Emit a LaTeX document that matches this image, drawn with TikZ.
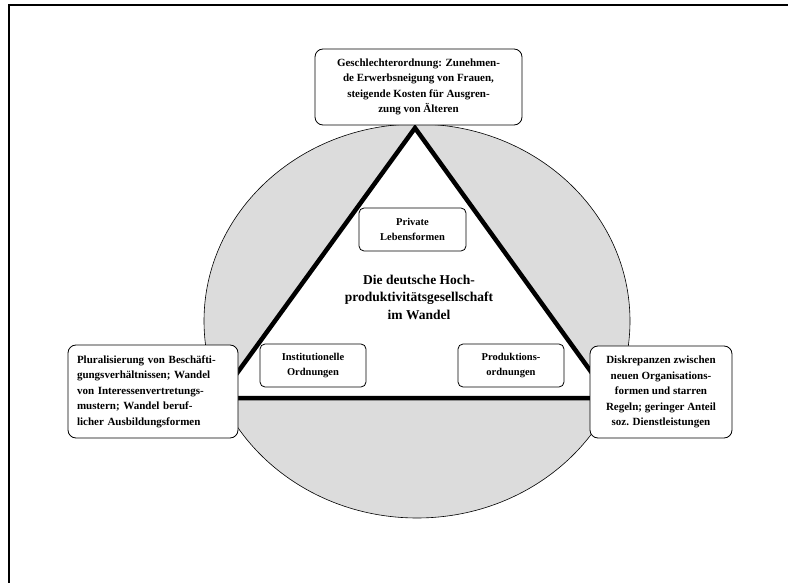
\documentclass[tikz,border=0pt]{standalone}
\usepackage{fontspec}
\setmainfont{Liberation Serif}
\definecolor{ringgray}{HTML}{DCDCDC}
\begin{document}
\begin{tikzpicture}[x=1pt,y=-1pt,
  bigbox/.style={draw, rounded corners=8pt, fill=white, line width=0.8pt, align=center,
    font=\fontsize{11}{15.5}\selectfont\bfseries, inner sep=0pt},
  smallbox/.style={draw, rounded corners=5pt, fill=white, line width=0.8pt, align=center,
    font=\fontsize{10.5}{15}\selectfont\bfseries, inner sep=0pt,
    minimum width=106pt, minimum height=43pt},
  titletext/.style={align=center, font=\fontsize{13.5}{17.5}\selectfont\bfseries, inner sep=0pt},
  tri/.style={line width=4.5pt, line join=miter}
]
\useasboundingbox (0,0) rectangle (788,583);
% frame
\draw[line width=2pt] (8.5,5.5) rectangle (820,620);
% ellipse ring
\fill[ringgray, draw=black, line width=0.6pt] (417,321) ellipse [x radius=213pt, y radius=197pt];
% triangle
\coordinate (apex) at (415,128);
\coordinate (bl) at (219,398);
\coordinate (br) at (610,398);
\draw[tri, fill=white] (apex) -- (bl) -- (br) -- cycle;
% boxes
\node[bigbox, minimum width=207pt, minimum height=76pt] (top) at (418.5,87)
  {Geschlechterordnung: Zunehmen-\\de Erwerbsneigung von Frauen,\\steigende Kosten für Ausgren-\\zung von Älteren};
\node[bigbox, align=left, text width=152pt, minimum width=170pt, minimum height=93pt] (left) at (153,391.5)
  {Pluralisierung von Beschäfti-\\gungsverhältnissen; Wandel\\von Interessenvertretungs-\\mustern; Wandel beruf-\\licher Ausbildungsformen};
\node[bigbox, minimum width=142pt, minimum height=92pt] (right) at (661,392)
  {Diskrepanzen zwischen\\neuen Organisations-\\formen und starren\\Regeln; geringer Anteil\\soz. Dienstleistungen};
\node[smallbox, minimum width=107pt] (priv) at (412.5,229.5) {Private\\Lebensformen};
\node[smallbox] (inst) at (313,365.5) {Institutionelle\\Ordnungen};
\node[smallbox] (prod) at (511,365.5) {Produktions-\\ordnungen};
\node[titletext] (title) at (419,297) {Die deutsche Hoch-\\produktivitätsgesellschaft\\im Wandel};
\end{tikzpicture}
\end{document}
